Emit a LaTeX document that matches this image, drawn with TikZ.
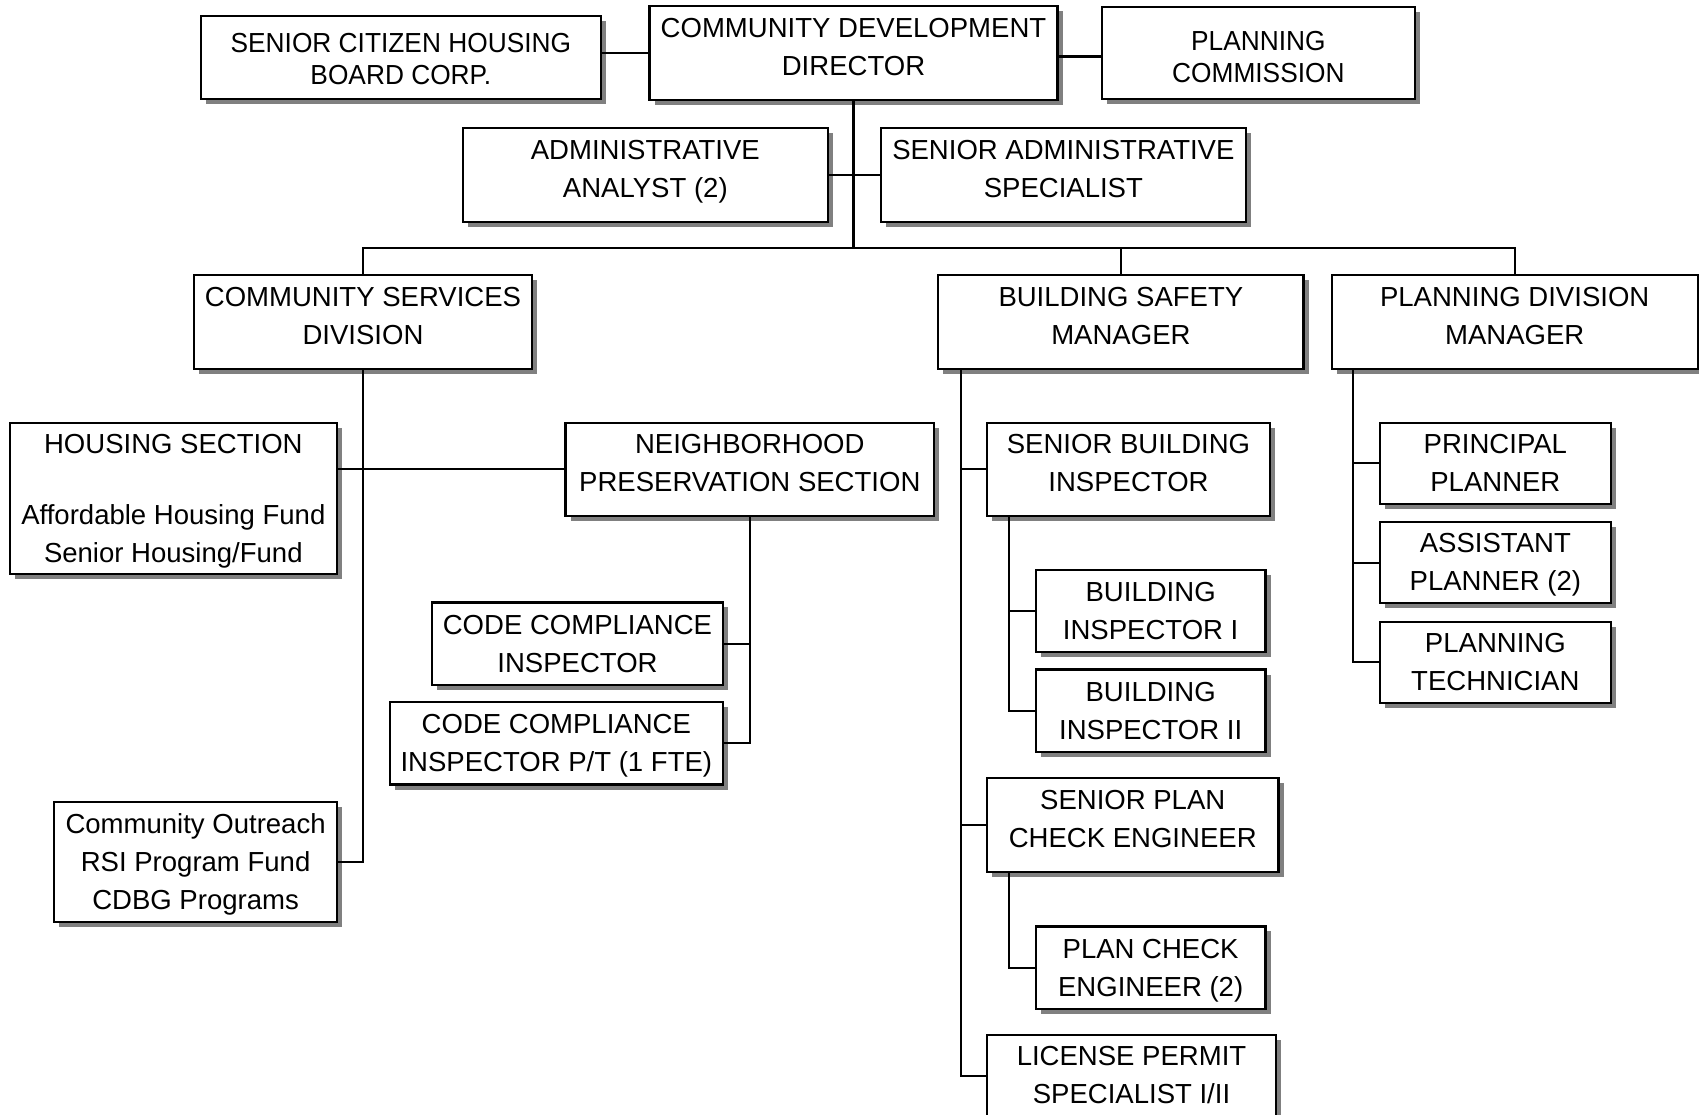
\documentclass[tikz,border=0pt]{standalone}
\usepackage{fontspec}
\setmainfont{Liberation Sans}
\newfontfamily\narrowsans[FakeStretch=0.955]{Liberation Sans}
\usetikzlibrary{shadows}

\tikzset{
  orgbox/.style={draw=black, line width=0.65pt, fill=white, inner sep=0pt, outer sep=0pt,
    drop shadow={shadow xshift=0.05cm, shadow yshift=-0.05cm, fill=black!50, opacity=1}},
  orgtext/.style={align=center, inner sep=0pt, text=black,
    font=\fontsize{7.83}{10.8}\selectfont,
    execute at begin node={\vphantom{(}}, execute at end node={\vphantom{(}}},
  narrowtext/.style={orgtext, font=\narrowsans\fontsize{7.83}{9.1}\selectfont},
  conn/.style={draw=black, line width=0.6pt},
}

% #1 text style, #2 name, #3 left, #4 top, #5 right, #6 bottom, #7 text mid y, #8 text
\newcommand\orgnode[8][orgtext]{%
  \pgfmathsetmacro\obw{(#5-#3)*0.01}%
  \pgfmathsetmacro\obh{(#6-#4)*0.01}%
  \node[orgbox, minimum width=\obw cm, minimum height=\obh cm] (#2) at ({(#3+#5)/2},{(#4+#6)/2}) {};
  \node[#1] (#2-text) at ({(#3+#5)/2},{#7+2.75}) {#8};
}

\begin{document}
\begin{tikzpicture}[x=0.01cm, y=-0.01cm]
\fill[white] (0,0) rectangle (1699,1115);
\useasboundingbox (0,0) rectangle (1699,1115);

% top level
\orgnode[narrowtext]{sc}{200.7}{16}{601}{99.3}{58.7}{SENIOR CITIZEN HOUSING\\BOARD CORP.}
\orgnode{dir}{649.5}{6}{1057.5}{100}{46.5}{COMMUNITY DEVELOPMENT\\DIRECTOR}
\orgnode[narrowtext]{pc}{1101.7}{7.3}{1415}{99}{57.1}{PLANNING\\COMMISSION}
\orgnode{aa}{462.7}{128.3}{828}{221.7}{168.5}{ADMINISTRATIVE\\ANALYST (2)}
\orgnode{sas}{880.7}{128.3}{1246}{221.7}{168.5}{SENIOR ADMINISTRATIVE\\SPECIALIST}

% divisions
\orgnode{csd}{194}{275}{532}{369}{315.5}{COMMUNITY SERVICES\\DIVISION}
\orgnode{bsm}{938.3}{275}{1303.5}{369}{315.5}{BUILDING SAFETY\\MANAGER}
\orgnode{pdm}{1331.7}{275}{1697.7}{369}{315.5}{PLANNING DIVISION\\MANAGER}

% community services
\orgnode{hs}{10}{422.7}{336.7}{574.3}{498.5}{HOUSING SECTION\\[0.337cm]Affordable Housing Fund\\Senior Housing/Fund}
\orgnode{nps}{565.6}{422.7}{934}{516}{463.1}{NEIGHBORHOOD\\PRESERVATION SECTION}
\orgnode{cci}{432.3}{602.4}{722.7}{684.8}{643.6}{CODE COMPLIANCE\\INSPECTOR}
\orgnode{ccipt}{390}{702}{722.7}{784.5}{743.3}{CODE COMPLIANCE\\INSPECTOR P/T (1 FTE)}
\orgnode{co}{54.2}{801.8}{337}{922}{861.9}{Community Outreach\\RSI Program Fund\\CDBG Programs}

% building safety
\orgnode{sbi}{987}{422.7}{1270}{516}{463.1}{SENIOR BUILDING\\INSPECTOR}
\orgnode{bia}{1035.8}{570}{1265.5}{652.3}{611}{BUILDING\\INSPECTOR I}
\orgnode{bib}{1035.8}{669.6}{1265.5}{752}{710.8}{BUILDING\\INSPECTOR II}
\orgnode{spce}{987}{778}{1278.5}{872.2}{818.5}{SENIOR PLAN\\CHECK ENGINEER}
\orgnode{pce}{1035.8}{926.4}{1265.5}{1008.7}{967.5}{PLAN CHECK\\ENGINEER (2)}
\orgnode{lps}{987}{1034.7}{1276}{1118}{1075.2}{LICENSE PERMIT\\SPECIALIST I/II}

% planning
\orgnode{pp}{1380}{422.7}{1610.7}{504}{463.2}{PRINCIPAL\\PLANNER}
\orgnode{ap}{1380}{522.3}{1610.7}{603.3}{562.2}{ASSISTANT\\PLANNER (2)}
\orgnode{pt}{1380}{621.7}{1610.7}{702.7}{661.7}{PLANNING\\TECHNICIAN}

% connectors
\coordinate (bus) at (0,248);
\coordinate (dirR) at ([yshift=-0.035cm]dir.east);
\draw[conn] (sc.east |- dir.west) -- (dir.west);
\draw[conn] (dirR) -- (dirR -| pc.west);
\draw[conn] (dir.south) -- (dir.south |- bus);
\draw[conn] (aa.east) -- (sas.west);
\draw[conn] (csd.north) -- (csd.north |- bus) -- (pdm.north |- bus) -- (pdm.north);
\draw[conn] (bsm.north) -- (bsm.north |- bus);

\draw[conn] (csd.south) |- (co.east);
\draw[conn] (hs.east |- nps.west) -- (nps.west);
\draw[conn] (nps.south) |- (ccipt.east);
\draw[conn] (cci.east) -- (cci.east -| nps.south);

\coordinate (bsmT) at ([xshift=0.227cm]bsm.south west);
\draw[conn] (bsmT) |- (lps.west);
\draw[conn] (bsmT |- sbi.west) -- (sbi.west);
\draw[conn] (bsmT |- spce.west) -- (spce.west);

\coordinate (sbiT) at ([xshift=0.217cm]sbi.south west);
\draw[conn] (sbiT) |- (bib.west);
\draw[conn] (sbiT |- bia.west) -- (bia.west);

\coordinate (spceT) at ([xshift=0.217cm]spce.south west);
\draw[conn] (spceT) |- (pce.west);

\coordinate (pdmT) at ([xshift=0.216cm]pdm.south west);
\draw[conn] (pdmT) |- (pt.west);
\draw[conn] (pdmT |- pp.west) -- (pp.west);
\draw[conn] (pdmT |- ap.west) -- (ap.west);
\end{tikzpicture}
\end{document}
